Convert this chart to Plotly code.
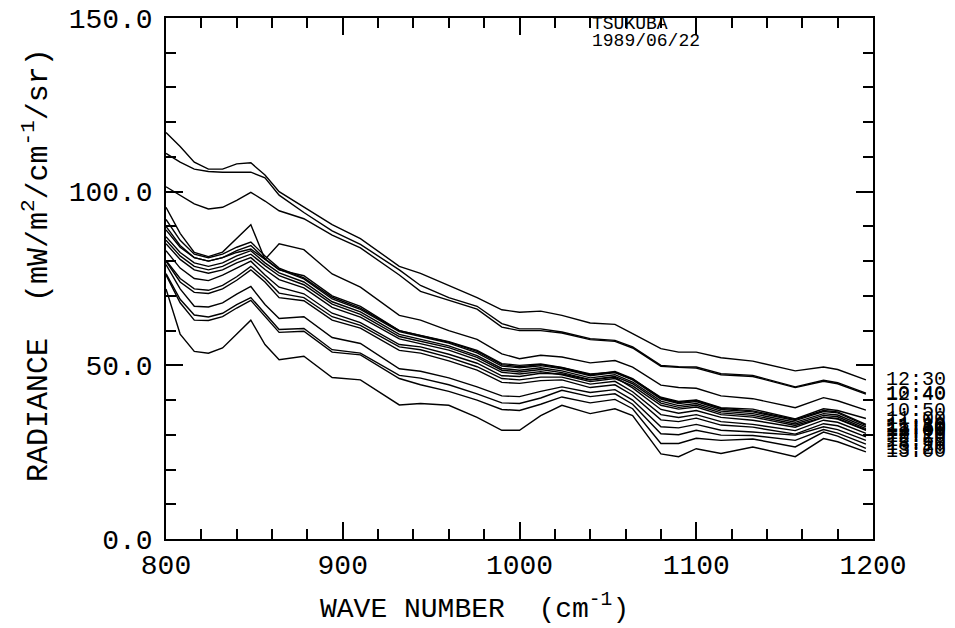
import plotly.graph_objects as go

# Wave numbers (cm^-1) at the kink points of the spectra
wave_number = [800, 808, 816, 824, 832, 840, 848, 856, 864, 878, 894, 910, 932, 944, 960, 976,
               990, 1000, 1012, 1024, 1040, 1054, 1064, 1080, 1090, 1100, 1114, 1132, 1156, 1172, 1180, 1196]

# Observation times (labels at the end of each spectrum)
times = ["12:30", "10:40", "12:40", "10:50", "11:00", "11:10", "11:20", "11:30", "11:40",
         "11:50", "12:00", "12:10", "12:20", "12:50", "13:10", "13:20", "13:00"]

# Radiance (mW/m2/cm-1/sr) of each spectrum
r01 = [117, 113, 108.5, 106.5, 106.5, 108, 108.3, 104.8, 100, 95.5, 90.5, 86.5, 78.5, 76.5, 73, 69.5,
       66, 65.3, 65.6, 64.4, 62.2, 61.8, 59.1, 54.8, 53.8, 53.8, 52.2, 51.2, 48.4, 49.5, 48.8, 45.8]
r02 = [111, 108.5, 106.5, 105.8, 105.6, 105.6, 105.6, 104, 99, 94, 88.7, 84.8, 77.5, 73, 69.5, 67,
       62, 60.5, 60.5, 59.6, 57.7, 57.2, 55.3, 50, 49.6, 49.5, 47.6, 47.1, 43.8, 45.7, 45, 42]
r03 = [101.4, 99, 96.5, 95, 95.5, 97.5, 99.8, 97.3, 94.5, 92.2, 87.5, 83.8, 76, 71.3, 68.8, 66.2,
       61, 60, 60, 59.3, 57.4, 56.9, 55, 49.7, 49.4, 49.2, 47.3, 46.8, 43.6, 45.4, 44.7, 41.7]
r04 = [89, 84, 81, 80, 81, 82.5, 83.5, 80.5, 85, 83.3, 76.3, 72.5, 64.4, 63, 60, 57.5,
       53.3, 51.9, 52.9, 52.4, 50.7, 51.4, 49.5, 44.3, 43.6, 43.4, 41.2, 40.4, 37.8, 40.7, 39.8, 37.1]
r05 = [95.5, 88, 82.5, 81.3, 82.6, 86.5, 90.5, 80.5, 77.5, 75.8, 70, 67, 60, 58.6, 56.8, 54.3,
       50.5, 50, 50.4, 49.4, 47.5, 48, 46, 40.8, 39.6, 40, 37.8, 37.4, 34.6, 37.5, 37, 34.7]
r06 = [92, 86, 82, 81, 82, 84, 85.5, 81.5, 78, 75.2, 69.6, 66.5, 60, 58.5, 56.7, 54,
       50.2, 49.6, 50.2, 49.3, 47.3, 48.2, 46.2, 40.6, 39.3, 39.9, 37.6, 36.9, 34.4, 37, 36.6, 33]
r07 = [90, 84.5, 81, 80, 81, 83, 84.5, 80.7, 77.6, 74.9, 69.1, 66.1, 59.7, 58.2, 56.4, 53.6,
       49.8, 49.3, 49.9, 49, 47, 47.9, 45.8, 40.3, 39, 39.6, 37.3, 36.6, 34.1, 36.7, 36.3, 32.7]
r08 = [87, 82.5, 79.5, 78.5, 79.5, 81.5, 83, 79.5, 76.6, 74, 68.3, 65.4, 58.9, 57.4, 55.6, 52.8,
       49.1, 48.6, 49.3, 48.4, 46.4, 47.3, 45.2, 39.7, 38.4, 39, 36.8, 36.1, 33.6, 36.1, 35.7, 32.3]
r09 = [86, 81.5, 78.5, 77.5, 78.5, 80.5, 82, 78.7, 75.8, 73.2, 67.6, 64.7, 58.3, 56.9, 55.1, 52.3,
       48.6, 48.1, 48.8, 47.9, 45.9, 46.8, 44.7, 39.1, 37.9, 38.5, 36.3, 35.6, 33.1, 35.6, 35.2, 31.8]
r10 = [85, 80.5, 77.5, 76.5, 77.5, 79.5, 81, 77.6, 74.7, 72.3, 66.7, 63.9, 57.6, 56.2, 54.4, 51.6,
       48, 47.5, 48.2, 47.3, 45.3, 46.2, 44.1, 38.5, 37.4, 38, 35.8, 35.1, 32.7, 35.1, 34.7, 31.4]
r11 = [83, 78, 75, 74.4, 76, 78, 80, 76, 72.5, 70.6, 65, 62.3, 56, 55.3, 53.2, 50.6,
       47, 46.8, 47.7, 47.5, 45.8, 46.6, 43.5, 37.3, 36.2, 37, 35, 34.2, 32.2, 35, 34.5, 31.3]
r12 = [80.2, 75, 72, 71.6, 73, 75.5, 78.5, 75, 70.8, 69.5, 64, 61.5, 55.3, 54.5, 52.3, 49.6,
       46.2, 45.8, 46.6, 46.6, 44.6, 45.4, 42.4, 35.8, 35, 35.8, 33.8, 33, 31.2, 34.2, 33.6, 30.4]
r13 = [80, 74, 71, 70.7, 72, 74.5, 77.5, 74, 69.5, 68.6, 63, 60.7, 54.3, 53.5, 51.3, 48.6,
       45.1, 44.8, 45.6, 45.8, 43.6, 44.4, 41.4, 34.3, 33.8, 34.8, 32.8, 32.2, 30.2, 33.2, 32.6, 29.4]
r14 = [79, 72, 67, 66.8, 68, 70.5, 72.7, 67.5, 63.5, 64, 58, 56.3, 49, 48.3, 46.4, 43.8,
       41.2, 41, 42.5, 43.8, 42.2, 43, 40, 32.3, 32, 33, 31.3, 30.8, 29.9, 32.3, 31.5, 28.4]
r15 = [76.4, 69, 64.5, 63.9, 65, 67.5, 69.5, 65, 60.3, 60.6, 54.5, 53.5, 47.1, 46.3, 44.4, 41.8,
       39.2, 39, 40.6, 42.8, 41, 41.8, 38.8, 30.3, 30, 31.3, 29.9, 29.8, 28.4, 31.5, 30.5, 27.3]
r16 = [76, 68, 63, 62.9, 64, 66.5, 68.7, 64, 59.5, 59.8, 53.8, 53, 46.2, 44.4, 42.5, 40,
       37.3, 37, 38.8, 40.9, 39.2, 40.2, 37.5, 27.5, 27.5, 29, 28.4, 28.8, 26.5, 30.8, 29.6, 26.1]
r17 = [72, 59, 54, 53.5, 55, 59, 63, 56, 51.6, 52.6, 46.5, 45.8, 38.6, 39, 38.5, 35,
       31.3, 31.3, 35.5, 38.5, 36.1, 37.5, 35.5, 24.5, 23.7, 26, 24.6, 26.5, 23.7, 28.9, 28, 25.1]

spectra = [r01, r02, r03, r04, r05, r06, r07, r08, r09, r10, r11, r12, r13, r14, r15, r16, r17]

x_ticks = [800, 900, 1000, 1100, 1200]
y_ticks = [0, 50, 100, 150]

FONT = "Liberation Mono"

fig = go.Figure()
annotations = []
for vals, label in zip(spectra, times):
    fig.add_trace(go.Scatter(x=wave_number, y=vals, mode="lines",
                             line=dict(color="black", width=1.4),
                             showlegend=False, hoverinfo="skip"))
    annotations.append(dict(x=1.016, xref="paper", y=vals[-1], yref="y",
                            text=label, showarrow=False, xanchor="left", yanchor="middle",
                            font=dict(family=FONT, size=20, color="black")))

annotations.append(dict(x=0.6, xref="paper", y=0.9885, yref="paper", xanchor="left", yanchor="middle",
                        showarrow=False, text="TSUKUBA",
                        font=dict(family=FONT, size=18, color="black")))
annotations.append(dict(x=0.6, xref="paper", y=0.956, yref="paper", xanchor="left", yanchor="middle",
                        showarrow=False, text="1989/06/22",
                        font=dict(family=FONT, size=18, color="black")))
annotations.append(dict(x=0.437, xref="paper", y=-0.13, yref="paper", xanchor="center", yanchor="middle",
                        showarrow=False,
                        text="WAVE NUMBER  (cm<sup>-1</sup>)",
                        font=dict(family=FONT, size=28, color="black")))
annotations.append(dict(x=-0.183, xref="paper", y=0.525, yref="paper", xanchor="center", yanchor="middle",
                        showarrow=False, textangle=-90,
                        text="RADIANCE  (mW/m<sup>2</sup>/cm<sup>-1</sup>/sr)",
                        font=dict(family=FONT, size=30, color="black")))

axis_common = dict(showgrid=False, zeroline=False, showline=True, linecolor="black", linewidth=1.5,
                   mirror="allticks", ticks="inside", tickcolor="black", tickwidth=1.5, ticklen=17,
                   automargin=False, ticklabeloverflow="allow",
                   tickfont=dict(family=FONT, size=28, color="black"))

# The page body adds an 8 px offset; margins compensate so the plot box sits at 166..873 x 18..539
fig.update_layout(
    width=955, height=628,
    margin=dict(l=158, r=90, t=10, b=97),
    paper_bgcolor="white", plot_bgcolor="white",
    xaxis=dict(range=[800, 1200], tickvals=x_ticks, ticktext=[str(v) for v in x_ticks],
               minor=dict(dtick=20, ticks="inside", ticklen=10, tickcolor="black", tickwidth=1.5),
               **axis_common),
    yaxis=dict(range=[0, 150], tickvals=y_ticks, ticktext=["%.1f" % v for v in y_ticks],
               ticklabelstandoff=6,
               minor=dict(dtick=10, ticks="inside", ticklen=10, tickcolor="black", tickwidth=1.5),
               **axis_common),
    annotations=annotations,
)

fig.write_html("out.html")
